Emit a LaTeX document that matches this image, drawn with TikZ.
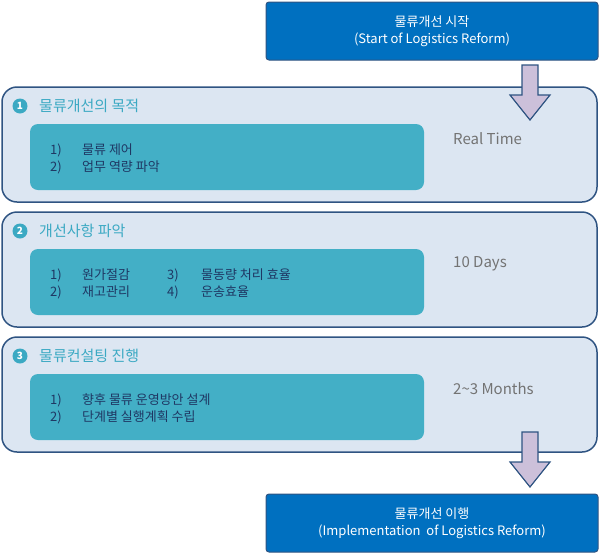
\documentclass[tikz,border=0pt]{standalone}
\usepackage{fontspec}
\setmainfont{Noto Sans CJK KR}
\definecolor{darkb}{RGB}{0,112,192}
\definecolor{bord}{RGB}{47,84,130}
\definecolor{panel}{RGB}{220,230,242}
\definecolor{teal}{RGB}{67,175,198}
\definecolor{ttl}{RGB}{59,169,195}
\definecolor{txt}{RGB}{31,56,100}
\definecolor{lav}{RGB}{204,192,218}
\begin{document}
\begin{tikzpicture}[x=1pt,y=-1pt,
 topbox/.style={draw=bord,fill=darkb,line width=1pt,rounded corners=3pt},
 panelbox/.style={draw=bord,fill=panel,line width=1.5pt,rounded corners=15pt},
 innerbox/.style={fill=teal,rounded corners=8pt},
 ttltext/.style={text=ttl,font=\fontsize{15}{17}\selectfont,anchor=west,inner sep=0},
 itm/.style={text=txt,font=\fontsize{13}{15}\selectfont,anchor=west,inner sep=0},
 rt/.style={text=gray!90!black,font=\fontsize{15}{17}\selectfont,anchor=west,inner sep=0},
 num/.style={circle,fill=ttl,text=white,inner sep=0,minimum size=15pt,font=\bfseries\fontsize{10}{11}\selectfont},
 bigarrow/.style={draw=bord,fill=lav,line width=1.2pt}]
\useasboundingbox (0,0) rectangle (600,555);
\draw[topbox] (266,2) rectangle (598,60);
\node[text=white,align=center,font=\fontsize{13}{17}\selectfont] (start) at (432,31) {물류개선 시작\\(Start of Logistics Reform)};
\draw[topbox] (266,494) rectangle (598,552);
\node[text=white,align=center,font=\fontsize{13}{17}\selectfont] (end) at (432,523) {물류개선 이행\\(Implementation\ \ of Logistics Reform)};
\foreach \y/\n/\t/\r in {87/1/물류개선의 목적/Real Time,212/2/개선사항 파악/10 Days,337/3/물류컨설팅 진행/2\textasciitilde3 Months}{
 \draw[panelbox] (2,\y) rectangle (597,\y+115);
 \fill[innerbox] (30,\y+37) rectangle (424,\y+103);
 \node[num] (n\n) at (20,\y+19) {\n};
 \node[ttltext] (t\n) at (39,\y+19) {\t};
 \node[rt] (r\n) at (453,\y+52) {\r};
}
\node[itm] (a1) at (50,150) {1)}; \node[itm] (a1t) at (82,150) {물류 제어};
\node[itm] (a2) at (50,167) {2)}; \node[itm] (a2t) at (82,167) {업무 역량 파악};
\node[itm] (b1) at (50,275) {1)}; \node[itm] (b1t) at (82,275) {원가절감};
\node[itm] (b2) at (50,292) {2)}; \node[itm] (b2t) at (82,292) {재고관리};
\node[itm] (b3) at (167,275) {3)}; \node[itm] (b3t) at (201,275) {물동량 처리 효율};
\node[itm] (b4) at (167,292) {4)}; \node[itm] (b4t) at (201,292) {운송효율};
\node[itm] (c1) at (50,400) {1)}; \node[itm] (c1t) at (82,400) {향후 물류 운영방안 설계};
\node[itm] (c2) at (50,417) {2)}; \node[itm] (c2t) at (82,417) {단계별 실행계획 수립};
\foreach \y in {65,432}{
 \draw[bigarrow] (522,\y) -- (538,\y) -- (538,\y+30) -- (550,\y+30) -- (530,\y+55) -- (510,\y+30) -- (522,\y+30) -- cycle;
}
\end{tikzpicture}
\end{document}
